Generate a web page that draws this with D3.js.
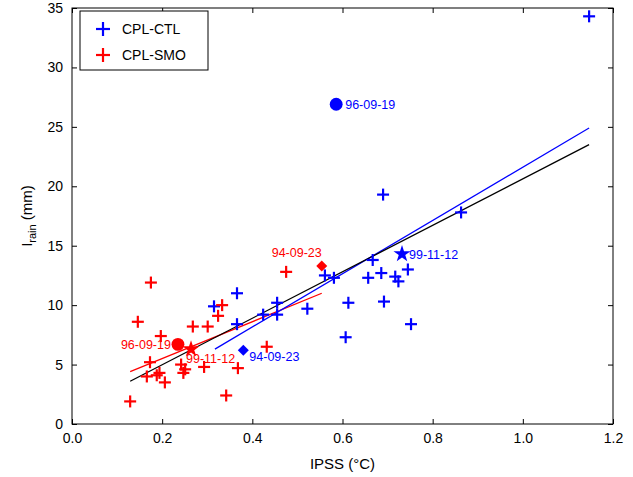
<html>
<script src="https://d3js.org/d3.v7.min.js"></script>
<style>body{margin:0;} text{font-family:"Liberation Sans",Arial,sans-serif;}</style>
<body>
<svg width="633" height="477"></svg>
<script>
// blue crosses: CPL-CTL
var ctlX = [1.147,0.69,0.863,0.667,0.561,0.581,0.657,0.686,0.717,0.724,0.745,0.613,0.692,0.752,0.607,0.522,0.366,0.315,0.366,0.424,0.455,0.455];
var ctlY = [34.3,19.3,17.8,13.8,12.5,12.3,12.3,12.7,12.4,12.0,13.0,10.2,10.3,8.4,7.3,9.7,11.0,9.9,8.4,9.2,10.2,9.2];
// red crosses: CPL-SMO
var smoX = [0.175,0.475,0.333,0.324,0.146,0.268,0.301,0.197,0.432,0.173,0.242,0.251,0.247,0.194,0.188,0.166,0.206,0.293,0.368,0.342,0.129];
var smoY = [11.9,12.8,10.0,9.1,8.6,8.2,8.2,7.4,6.5,5.2,5.0,4.6,4.3,4.3,4.1,4.0,3.5,4.8,4.7,2.4,1.9];
// special events
var ctlEvents = [{n:"96-09-19",x:0.586,y:26.9,s:"circle"},{n:"99-11-12",x:0.732,y:14.3,s:"star"},{n:"94-09-23",x:0.38,y:6.2,s:"diamond"}];
var smoEvents = [{n:"96-09-19",x:0.235,y:6.7,s:"circle"},{n:"99-11-12",x:0.264,y:6.3,s:"star"},{n:"94-09-23",x:0.554,y:13.3,s:"diamond"}];
// fit lines [x0,y0,x1,y1]
var fitCtl = [0.317,6.3,1.147,24.9];
var fitSmo = [0.129,4.4,0.554,11.0];
var fitAll = [0.129,3.6,1.147,23.5];
var xTicks = [0,0.2,0.4,0.6,0.8,1.0,1.2];
var yTicks = [0,5,10,15,20,25,30,35];

var svg = d3.select("svg");
var L=72,R=613,T=8,B=424;
var x = d3.scaleLinear().domain([0,1.2]).range([L,R]);
var y = d3.scaleLinear().domain([0,35]).range([B,T]);

svg.append("g").attr("transform","translate(0,"+B+")")
  .call(d3.axisBottom(x).tickValues(xTicks).tickFormat(d3.format(".1f")).tickSizeInner(-5).tickSizeOuter(0).tickPadding(9))
  .call(g=>g.select(".domain").remove());
svg.append("g").attr("transform","translate(0,"+T+")")
  .call(d3.axisTop(x).tickValues(xTicks).tickFormat("").tickSizeInner(-5).tickSizeOuter(0))
  .call(g=>g.select(".domain").remove());
svg.append("g").attr("transform","translate("+L+",0)")
  .call(d3.axisLeft(y).tickValues(yTicks).tickSizeInner(-5).tickSizeOuter(0).tickPadding(9))
  .call(g=>g.select(".domain").remove());
svg.append("g").attr("transform","translate("+R+",0)")
  .call(d3.axisRight(y).tickValues(yTicks).tickFormat("").tickSizeInner(-5).tickSizeOuter(0))
  .call(g=>g.select(".domain").remove());
svg.selectAll(".tick text").attr("font-size",14).attr("fill","#000").style("font-family","Liberation Sans, Arial");
svg.append("rect").attr("x",L).attr("y",T).attr("width",R-L).attr("height",B-T).attr("fill","none").attr("stroke","#000");

svg.append("text").attr("x",(L+R)/2).attr("y",469).attr("text-anchor","middle").attr("font-size",15).text("IPSS (°C)");
var yl = svg.append("text").attr("transform","translate(32,"+((T+B)/2)+") rotate(-90)").attr("text-anchor","middle").attr("font-size",15);
yl.append("tspan").text("I");
yl.append("tspan").attr("font-size",11).attr("dy",4).text("rain");
yl.append("tspan").attr("dy",-4).text(" (mm)");

function line(f,c){
  svg.append("line").attr("x1",x(f[0])).attr("y1",y(f[1])).attr("x2",x(f[2])).attr("y2",y(f[3])).attr("stroke",c).attr("stroke-width",1.3);
}
line(fitSmo,"red"); line(fitCtl,"blue"); line(fitAll,"black");

function crosses(xs,ys,c){
  var g=svg.append("g").attr("stroke",c).attr("stroke-width",2.2);
  xs.forEach(function(v,i){
    var px=x(v),py=y(ys[i]);
    g.append("line").attr("x1",px-6).attr("x2",px+6).attr("y1",py).attr("y2",py);
    g.append("line").attr("x1",px).attr("x2",px).attr("y1",py-6).attr("y2",py+6);
  });
}
crosses(ctlX,ctlY,"blue"); crosses(smoX,smoY,"red");

var sym={circle:d3.symbol().type(d3.symbolCircle).size(130),star:d3.symbol().type(d3.symbolStar).size(90),diamond:d3.symbol().type(d3.symbolSquare).size(60)};
function events(ev,c,lab){
  ev.forEach(function(e){
    svg.append("path").attr("d",sym[e.s]()).attr("transform","translate("+x(e.x)+","+y(e.y)+")"+(e.s=="diamond"?" rotate(45)":"")).attr("fill",c);
    var o=lab[e.s];
    svg.append("text").attr("x",x(e.x)+o[0]).attr("y",y(e.y)+o[1]).attr("text-anchor",o[2]).attr("font-size",12.5).attr("fill",c).text(e.n);
  });
}
events(ctlEvents,"blue",{circle:[9,5,"start"],star:[7,5,"start"],diamond:[6,11,"start"]});
events(smoEvents,"red",{circle:[-7,5,"end"],star:[-5,14,"start"],diamond:[0,-9,"end"]});

// legend
var lg=svg.append("g");
lg.append("rect").attr("x",80).attr("y",11).attr("width",128).attr("height",59).attr("fill","#fff").attr("stroke","#000");
[["CPL-CTL","blue",29],["CPL-SMO","red",55]].forEach(function(d){
  lg.append("line").attr("x1",96).attr("x2",110).attr("y1",d[2]).attr("y2",d[2]).attr("stroke",d[1]).attr("stroke-width",2.2);
  lg.append("line").attr("x1",103).attr("x2",103).attr("y1",d[2]-7).attr("y2",d[2]+7).attr("stroke",d[1]).attr("stroke-width",2.2);
  lg.append("text").attr("x",122).attr("y",d[2]+5).attr("font-size",14).text(d[0]);
});
</script>
</body>
</html>
